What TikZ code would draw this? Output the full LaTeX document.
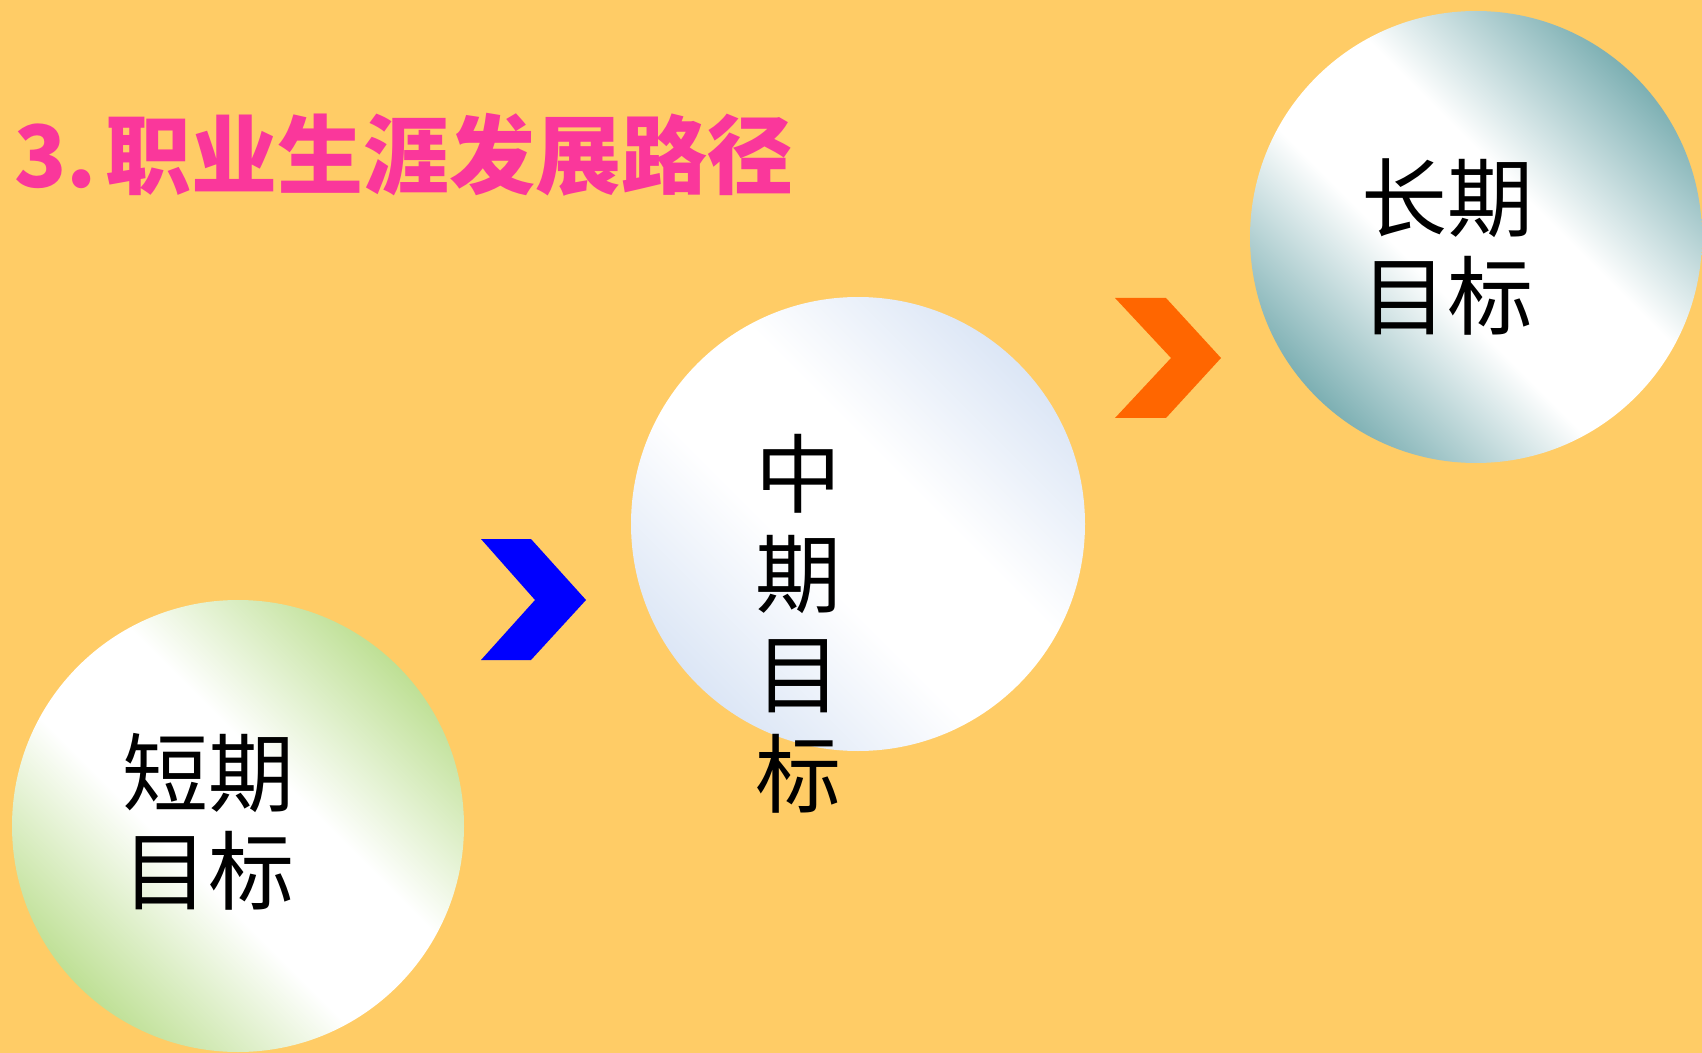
\documentclass[tikz,border=0pt]{standalone}
\usepackage{fontspec}
\newfontfamily\cjk{Noto Sans CJK SC}
\definecolor{bgc}{RGB}{255,204,102}
\definecolor{titlec}{RGB}{250,55,155}
\definecolor{greenc}{RGB}{180,219,132}
\definecolor{bluec}{RGB}{214,226,244}
\definecolor{tealc}{RGB}{104,163,167}
\definecolor{chevblue}{RGB}{0,0,255}
\definecolor{chevorange}{RGB}{255,102,0}
\pgfdeclareverticalshading{ballgreen}{100bp}{color(0bp)=(greenc); color(22bp)=(greenc); color(43bp)=(white); color(57bp)=(white); color(78bp)=(greenc); color(100bp)=(greenc)}
\pgfdeclareverticalshading{ballblue}{100bp}{color(0bp)=(bluec); color(22bp)=(bluec); color(43bp)=(white); color(57bp)=(white); color(78bp)=(bluec); color(100bp)=(bluec)}
\pgfdeclareverticalshading{ballteal}{100bp}{color(0bp)=(tealc); color(22bp)=(tealc); color(43bp)=(white); color(57bp)=(white); color(78bp)=(tealc); color(100bp)=(tealc)}
\tikzset{
  ball/.style={shading=#1, shading angle=-45},
  lbl/.style={font=\cjk\fontsize{43}{49}\selectfont, align=center, text=black, inner sep=0pt},
  chev/.style={fill=#1, draw=none}
}
\begin{document}
\begin{tikzpicture}[x=0.5pt, y=-0.5pt]
\fill[bgc] (0,0) rectangle (1702,1053);
\useasboundingbox (0,0) rectangle (1702,1053);
% title
\node[anchor=west, inner sep=0pt, text=titlec, font=\cjk\bfseries\fontsize{43}{50}\selectfont] (title) at (14,155) {3.\kern0.1em职业生涯发展路径};
% circles
\path[ball=ballgreen] (238,826) circle[radius=226];
\path[ball=ballblue] (858,524) circle[radius=227];
\path[ball=ballteal] (1476,237) circle[radius=226];
% chevrons
\fill[chev=chevblue] (481,539) -- (531,539) -- (586,600) -- (531,660) -- (481,660) -- (535,600) -- cycle;
\fill[chev=chevorange] (1115,298) -- (1166,298) -- (1221,358) -- (1166,418) -- (1115,418) -- (1171,358) -- cycle;
% labels
\node[lbl] (short) at (208,822) {短期\\目标};
\node[lbl, font=\cjk\fontsize{43}{50}\selectfont] (mid) at (798,624) {中\\期\\目\\标};
\node[lbl] (long) at (1447,247) {长期\\目标};
\end{tikzpicture}
\end{document}
